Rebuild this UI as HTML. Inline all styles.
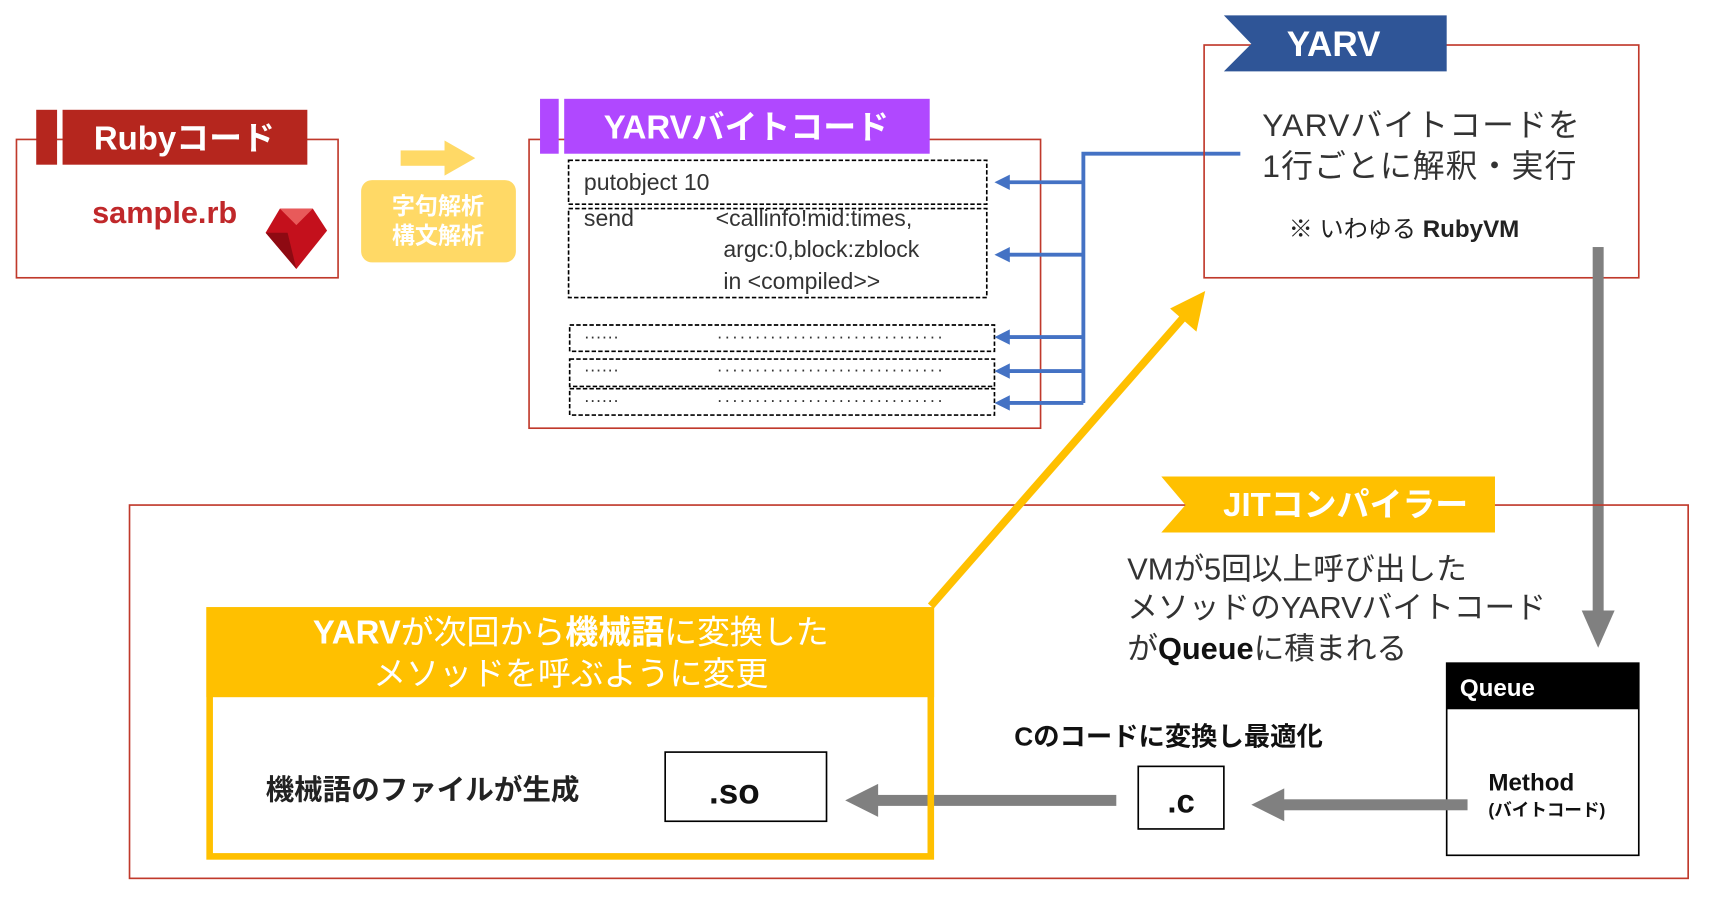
<!DOCTYPE html>
<html><head><meta charset="utf-8"><style>
html,body{margin:0;padding:0;background:#fff;width:1720px;height:908px;overflow:hidden}
svg text{font-family:"Liberation Sans","Noto Sans CJK JP",sans-serif}
</style></head><body>
<svg width="1720" height="908" viewBox="0 0 1567 827" preserveAspectRatio="none" xmlns="http://www.w3.org/2000/svg">
<!-- Ruby box -->
<rect x="15" y="127" width="293" height="126" fill="#fff" stroke="#c0392b" stroke-width="1.5"/>
<rect x="33" y="100" width="19" height="50" fill="#b5261e"/>
<rect x="57" y="100" width="223" height="50" fill="#b5261e"/>
<text x="168" y="136" fill="#fff" font-size="30" font-weight="bold" text-anchor="middle">Rubyコード</text>
<text x="150" y="203" fill="#c0282a" font-size="28" font-weight="bold" text-anchor="middle">sample.rb</text>
<polygon points="255,190 285,190 298,210 270,245 242,212" fill="#c4101c"/>
<polygon points="255,190 285,190 270,205" fill="#e85a5a"/>
<polygon points="242,212 270,245 262,212" fill="#8e0a12"/>
<!-- yellow arrow -->
<rect x="365" y="137" width="44" height="14" fill="#ffd966"/>
<polygon points="405,128 433,144 405,160" fill="#ffd966"/>
<rect x="329" y="164" width="141" height="75" rx="10" fill="#ffd966"/>
<text x="399" y="195" fill="#fff" font-size="21" font-weight="bold" text-anchor="middle">字句解析</text>
<text x="399" y="222" fill="#fff" font-size="21" font-weight="bold" text-anchor="middle">構文解析</text>
<!-- YARV bytecode -->
<rect x="482" y="127" width="466" height="263" fill="#fff" stroke="#c0392b" stroke-width="1.5"/>
<rect x="492" y="90" width="17" height="50" fill="#b048ff"/>
<rect x="514" y="90" width="333" height="50" fill="#b048ff"/>
<text x="680" y="126" fill="#fff" font-size="30" font-weight="bold" text-anchor="middle">YARVバイトコード</text>
<g fill="none" stroke="#000" stroke-width="1.5" stroke-dasharray="4,2">
<rect x="518" y="146" width="381" height="40"/>
<rect x="518" y="190" width="381" height="81"/>
<rect x="519" y="296" width="387" height="24"/>
<rect x="519" y="327" width="387" height="25"/>
<rect x="519" y="354" width="387" height="24"/>
</g>
<g font-size="21" fill="#333">
<text x="532" y="173">putobject   10</text>
<text x="532" y="206">send</text>
<text x="652" y="206">&lt;callinfo!mid:times,</text>
<text x="659" y="234">argc:0,block:zblock</text>
<text x="659" y="263">in &lt;compiled&gt;&gt;</text>
<text x="532" y="312" font-size="16">······</text><text x="653" y="312" font-size="16" letter-spacing="1.6">······························</text>
<text x="532" y="342" font-size="16">······</text><text x="653" y="342" font-size="16" letter-spacing="1.6">······························</text>
<text x="532" y="370" font-size="16">······</text><text x="653" y="370" font-size="16" letter-spacing="1.6">······························</text>
</g>
<!-- blue connectors -->
<g stroke="#4472c4" stroke-width="3.5" fill="none">
<polyline points="1130,140 987,140 987,367"/>
<line x1="987" y1="166" x2="916" y2="166"/>
<line x1="987" y1="232" x2="916" y2="232"/>
<line x1="987" y1="307" x2="916" y2="307"/>
<line x1="987" y1="338" x2="916" y2="338"/>
<line x1="987" y1="367" x2="916" y2="367"/>
</g>
<g fill="#4472c4">
<polygon points="906,166 920,159 920,173"/>
<polygon points="906,232 920,225 920,239"/>
<polygon points="906,307 920,300 920,314"/>
<polygon points="906,338 920,331 920,345"/>
<polygon points="906,367 920,360 920,374"/>
</g>
<!-- YARV box -->
<rect x="1097" y="41" width="396" height="212" fill="none" stroke="#c0392b" stroke-width="1.5"/>
<polygon points="1115,14 1318,14 1318,65 1115,65 1140,40" fill="#2f5597"/>
<text x="1215" y="51" fill="#fff" font-size="32" font-weight="bold" text-anchor="middle">YARV</text>
<text x="1150" y="124" font-size="29" fill="#333" letter-spacing="1">YARVバイトコードを</text>
<text x="1150" y="161" font-size="29" fill="#333" letter-spacing="1">1行ごとに解釈・実行</text>
<text x="1174" y="216" font-size="22" fill="#222">※ いわゆる <tspan font-weight="bold">RubyVM</tspan></text>
<!-- gray vertical arrow -->
<rect x="1451" y="225" width="10" height="335" fill="#808080"/>
<polygon points="1441,556 1471,556 1456,590" fill="#808080"/>
<!-- JIT box -->
<rect x="118" y="460" width="1420" height="340" fill="none" stroke="#c0392b" stroke-width="1.5"/>
<polygon points="1058,434 1362,434 1362,485 1058,485 1080,460" fill="#ffc000"/>
<text x="1226" y="470" fill="#fff" font-size="30" font-weight="bold" text-anchor="middle">JITコンパイラー</text>
<g font-size="28" fill="#333">
<text x="1027" y="528">VMが5回以上呼び出した</text>
<text x="1027" y="563">メソッドのYARVバイトコード</text>
<text x="1027" y="600">が<tspan font-weight="bold" fill="#111">Queue</tspan>に積まれる</text>
</g>
<!-- Queue -->
<rect x="1318" y="604" width="175" height="175" fill="#fff" stroke="#000" stroke-width="1.5"/>
<rect x="1318" y="604" width="175" height="42" fill="#000"/>
<text x="1330" y="634" fill="#fff" font-size="22" font-weight="bold">Queue</text>
<text x="1356" y="720" font-size="22" font-weight="bold" fill="#111">Method</text>
<text x="1356" y="743" font-size="16" font-weight="bold" fill="#111">(バイトコード)</text>
<!-- gray arrows -->
<rect x="1165" y="728" width="172" height="10" fill="#808080"/>
<polygon points="1140,733 1170,718 1170,748" fill="#808080"/>
<rect x="1037" y="698" width="78" height="57" fill="#fff" stroke="#000" stroke-width="1.5"/>
<text x="1076" y="740" font-size="30" font-weight="bold" text-anchor="middle" fill="#111">.c</text>
<text x="924" y="679" font-size="24" font-weight="bold" fill="#111">Cのコードに変換し最適化</text>
<rect x="795" y="724" width="222" height="10" fill="#808080"/>
<polygon points="770,729 800,714 800,744" fill="#808080"/>
<!-- yellow box -->
<rect x="188" y="553" width="663" height="82" fill="#ffc000"/>
<rect x="191" y="556" width="657" height="224" fill="none" stroke="#ffc000" stroke-width="6"/>
<text x="520" y="586" fill="#fff" font-size="30" text-anchor="middle"><tspan font-weight="bold">YARV</tspan>が次回から<tspan font-weight="bold">機械語</tspan>に変換した</text>
<text x="520" y="624" fill="#fff" font-size="30" text-anchor="middle">メソッドを呼ぶように変更</text>
<text x="242" y="728" font-size="26" font-weight="bold" fill="#222">機械語のファイルが生成</text>
<rect x="606" y="685" width="147" height="63" fill="#fff" stroke="#000" stroke-width="1.5"/>
<text x="669" y="732" font-size="32" font-weight="bold" text-anchor="middle" fill="#111">.so</text>
<!-- yellow diagonal -->
<line x1="848" y1="552" x2="1080" y2="287" stroke="#ffc000" stroke-width="7"/>
<polygon points="1098,265 1090,302 1066,281" fill="#ffc000"/>
</svg>
</body></html>
